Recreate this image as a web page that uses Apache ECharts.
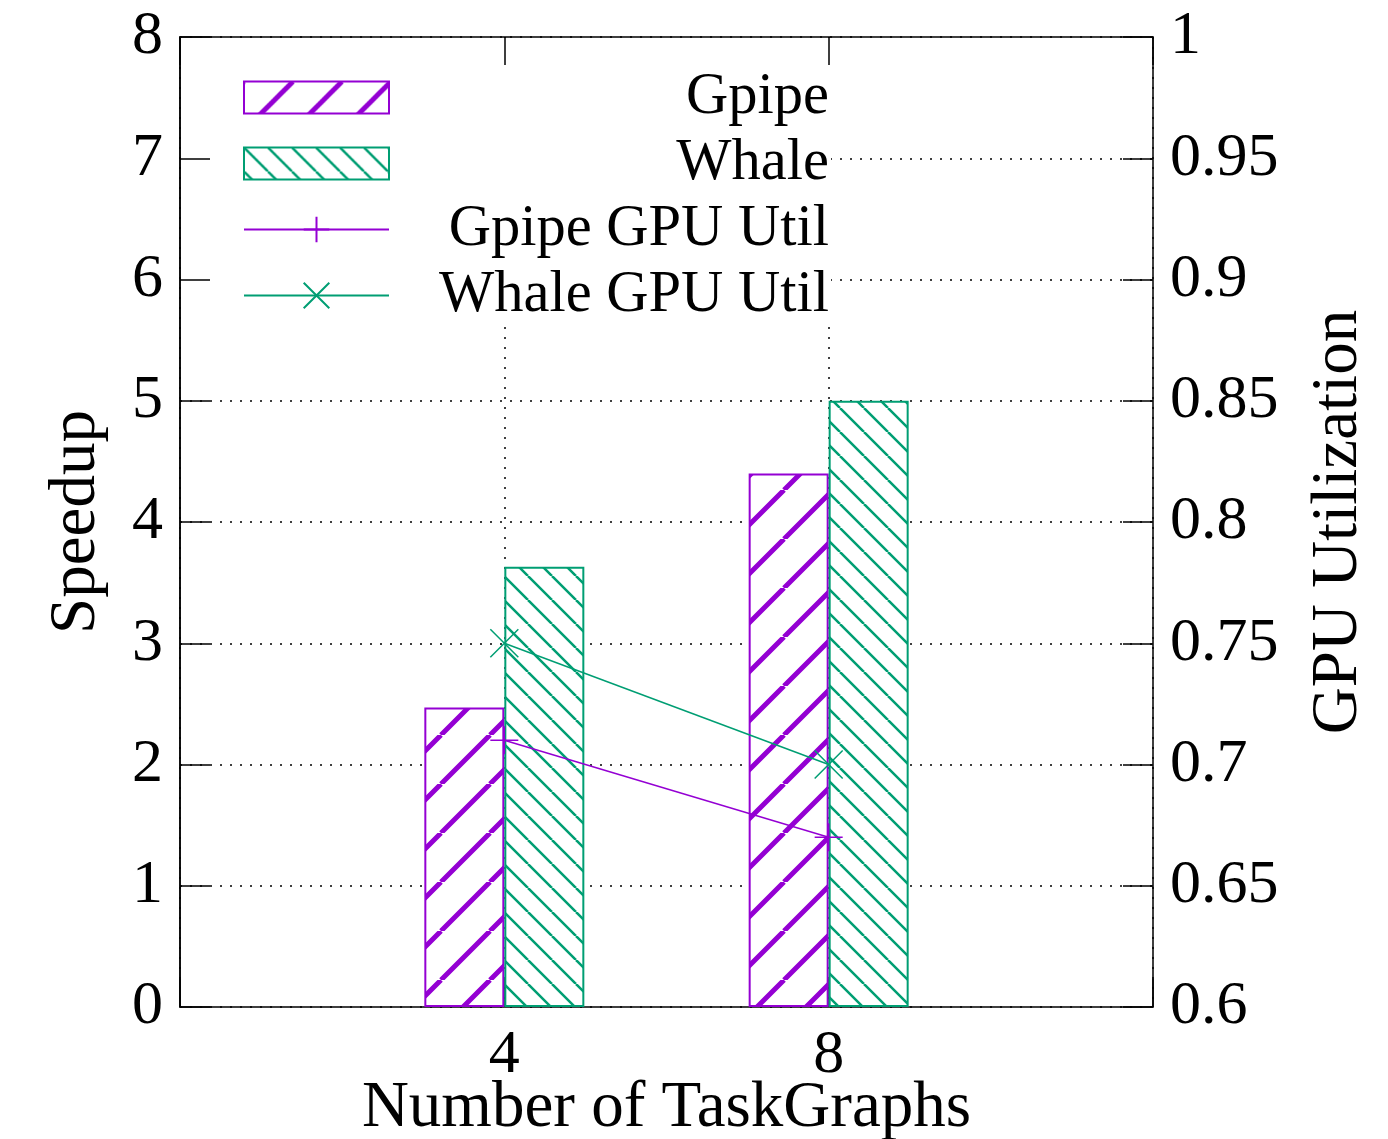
<!DOCTYPE html>
<html>
<head>
<meta charset="utf-8">
<script src="https://cdn.jsdelivr.net/npm/echarts@6/dist/echarts.min.js"></script>
<style>
  html, body { margin: 0; padding: 0; background: #fff; }
  #chart { width: 1388px; height: 1139px; }
</style>
</head>
<body>
<div id="chart"></div>
<script>
// data
var categories = ['', '4', '8', ''];
var gpipeSpeedup = [null, 2.47, 4.40, null];
var whaleSpeedup = [null, 3.63, 5.00, null];
var gpipeUtil = [null, 0.71, 0.67, null];
var whaleUtil = [null, 0.75, 0.70, null];

var PURPLE = '#9400D3';
var GREEN = '#009E73';
var FONT = 'Liberation Serif';

// hatch pattern, dir 1 = '/', -1 = '\'
function hatch(color, size, lw, dir) {
    var c = document.createElement('canvas');
    c.width = size; c.height = size;
    var g = c.getContext('2d');
    g.fillStyle = '#fff';
    g.fillRect(0, 0, size, size);
    g.strokeStyle = color;
    g.lineWidth = lw;
    g.beginPath();
    for (var k = -size; k <= size; k += size) {
        if (dir > 0) {
            g.moveTo(k, size); g.lineTo(k + size, 0);
        } else {
            g.moveTo(k, 0); g.lineTo(k + size, size);
        }
    }
    g.stroke();
    return { image: c, repeat: 'repeat' };
}

var dotted = { color: '#000', width: 1.5, type: [2, 8] };
var solid = { color: '#000', width: 1.5 };

var myChart = echarts.init(document.getElementById('chart'));
var option = {
    animation: false,
    backgroundColor: '#fff',
    textStyle: { fontFamily: FONT },
    grid: { left: 180, right: 235, top: 37, bottom: 132, outerBoundsMode: 'none', containLabel: false },
    legend: {
        orient: 'vertical',
        left: 181,
        top: 38,
        padding: [30, 2, 0, 62],
        backgroundColor: '#fff',
        itemWidth: 145,
        itemHeight: 32,
        itemGap: 7,
        data: [
            { name: 'Gpipe', icon: 'rect' },
            { name: 'Whale', icon: 'rect' },
            'Gpipe GPU Util',
            'Whale GPU Util'
        ],
        formatter: function (name) { return '{t|' + name + '}'; },
        textStyle: {
            rich: {
                t: { width: 435, align: 'right', fontSize: 58.5, fontFamily: FONT, lineHeight: 65, color: '#000' }
            }
        }
    },
    xAxis: [{
        type: 'category',
        data: categories,
        boundaryGap: false,
        position: 'bottom',
        axisLine: { onZero: false, lineStyle: solid },
        axisTick: { inside: true, length: 28, lineStyle: solid },
        axisLabel: { color: '#000', fontSize: 62, fontFamily: FONT, margin: 18 },
        splitLine: { show: true, lineStyle: dotted },
        name: 'Number of TaskGraphs',
        nameLocation: 'middle',
        nameMoveOverlap: false,
        nameGap: 69,
        nameTextStyle: { color: '#000', fontSize: 65, fontFamily: FONT }
    }, {
        type: 'category',
        data: categories,
        boundaryGap: false,
        position: 'top',
        z: 10,
        axisLine: { onZero: false, lineStyle: solid },
        axisTick: { inside: true, length: 28, lineStyle: solid },
        axisLabel: { show: false },
        splitLine: { show: false }
    }],
    yAxis: [{
        type: 'value',
        min: 0, max: 8, interval: 1,
        position: 'left',
        axisLine: { show: true, onZero: false, lineStyle: solid },
        axisTick: { show: false },
        axisLabel: { color: '#000', fontSize: 62, fontFamily: FONT, margin: 17 },
        splitLine: { show: true, lineStyle: dotted },
        name: 'Speedup',
        nameLocation: 'middle',
        nameRotate: 90,
        nameGap: 71,
        nameTextStyle: { color: '#000', fontSize: 65, fontFamily: FONT }
    }, {
        type: 'value',
        min: 0.6, max: 1, interval: 0.05,
        position: 'right',
        axisLine: { show: true, onZero: false, lineStyle: solid },
        axisTick: { show: true, inside: true, length: 30, lineStyle: solid },
        axisLabel: {
            color: '#000', fontSize: 62, fontFamily: FONT, margin: 17,
            formatter: function (v) { return String(+v.toFixed(2)); }
        },
        splitLine: { show: false },
        name: 'GPU Utilization',
        nameLocation: 'middle',
        nameRotate: 90,
        nameGap: 153,
        nameTextStyle: { color: '#000', fontSize: 65, fontFamily: FONT }
    }, {
        type: 'value',
        min: 0, max: 8, interval: 1,
        position: 'left',
        z: 10,
        axisLine: { show: true, onZero: false, lineStyle: solid },
        axisTick: { show: true, inside: true, length: 30, lineStyle: solid },
        axisLabel: { show: false },
        splitLine: { show: false }
    }],
    series: [{
        name: 'Gpipe',
        type: 'bar',
        data: gpipeSpeedup,
        barWidth: 80,
        barGap: '0%',
        itemStyle: { color: hatch(PURPLE, 49, 5, 1), borderColor: PURPLE, borderWidth: 2 }
    }, {
        name: 'Whale',
        type: 'bar',
        data: whaleSpeedup,
        barWidth: 80,
        barGap: '0%',
        itemStyle: { color: hatch(GREEN, 24, 2.5, -1), borderColor: GREEN, borderWidth: 2 }
    }, {
        name: 'Gpipe GPU Util',
        type: 'line',
        yAxisIndex: 1,
        data: gpipeUtil,
        symbol: 'path://M0,-1L0,1M-1,0L1,0',
        symbolSize: 28,
        lineStyle: { color: PURPLE, width: 1.5 },
        itemStyle: { color: PURPLE, borderColor: PURPLE, borderWidth: 1.5 }
    }, {
        name: 'Whale GPU Util',
        type: 'line',
        yAxisIndex: 1,
        data: whaleUtil,
        symbol: 'path://M-1,-1L1,1M-1,1L1,-1',
        symbolSize: 28,
        lineStyle: { color: GREEN, width: 1.5 },
        itemStyle: { color: GREEN, borderColor: GREEN, borderWidth: 1.5 }
    }]
};
myChart.setOption(option);
</script>
</body>
</html>
